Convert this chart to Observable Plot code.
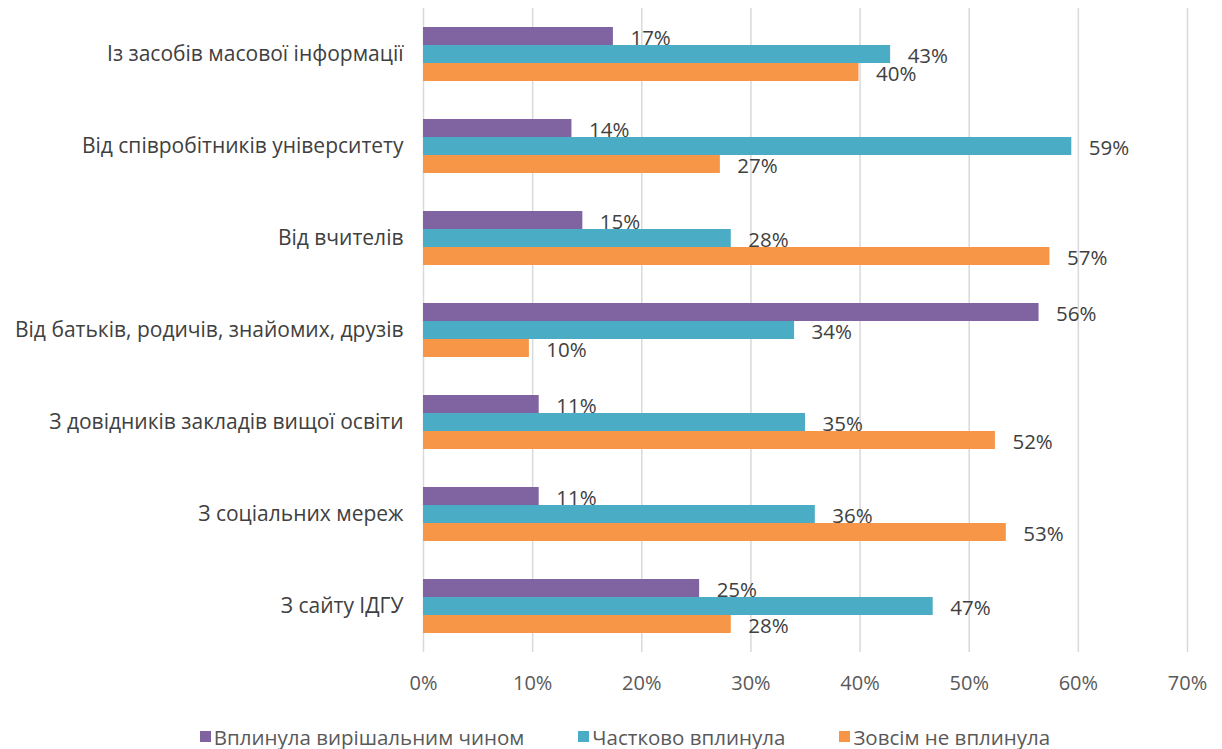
<!DOCTYPE html>
<html>
<head>
<meta charset="utf-8">
<script src="https://cdn.jsdelivr.net/npm/d3@7"></script>
<script src="https://cdn.jsdelivr.net/npm/@observablehq/plot@0.6"></script>
<style>
  body { margin: 0; background: #fff; font-family: "Open Sans", sans-serif; }
  #legend { display: flex; justify-content: center; gap: 54px; height: 37px; align-items: center; font-size: 20.5px; color: #595959; padding-left: 28px; padding-top: 12px; box-sizing: border-box; height: 37px; }
  #legend .item { display: flex; align-items: center; gap: 3px; }
  #legend .sw { width: 11px; height: 11px; display: inline-block; }
</style>
</head>
<body>
<div id="chart"></div>
<div id="legend"></div>
<script>
const categories = [
  "Із засобів масової інформації",
  "Від співробітників університету",
  "Від вчителів",
  "Від батьків, родичів, знайомих, друзів",
  "З довідників закладів вищої освіти",
  "З соціальних мереж",
  "З сайту ІДГУ"
];
const seriesNames = ["Вплинула вирішальним чином", "Частково вплинула", "Зовсім не вплинула"];
const seriesColors = ["#8064A2", "#4BACC6", "#F79646"];
const decisive = [17.4, 13.6, 14.6, 56.4, 10.6, 10.6, 25.3];
const partial  = [42.8, 59.4, 28.2, 34.0, 35.0, 35.9, 46.7];
const none     = [39.9, 27.2, 57.4, 9.7, 52.4, 53.4, 28.2];
const xTicks = [0, 10, 20, 30, 40, 50, 60, 70];

const seriesValues = [decisive, partial, none];
const data = [];
categories.forEach((c, i) => {
  seriesNames.forEach((s, j) => data.push({category: c, series: s, value: seriesValues[j][i]}));
});

const chart = Plot.plot({
  width: 1222,
  height: 712,
  marginLeft: 423,
  marginRight: 35,
  marginTop: 8,
  marginBottom: 60,
  style: {fontFamily: "'Open Sans', sans-serif", fontSize: "20px", color: "#595959", background: "#fff"},
  x: {domain: [0, 70], ticks: xTicks, tickFormat: d => d + "%", label: null, tickSize: 0, tickPadding: 23},
  y: {domain: seriesNames, paddingInner: 0, paddingOuter: 0.96, axis: null},
  fy: {domain: categories, padding: 0, label: null, tickSize: 0, tickPadding: 20},
  color: {domain: seriesNames, range: seriesColors},
  marks: [
    Plot.ruleX(xTicks, {stroke: "#d9d9d9", strokeWidth: 1.5}),
    Plot.barX(data, {fy: "category", y: "series", x: "value", fill: "series"}),
    Plot.text(data, {fy: "category", y: "series", x: "value", text: d => Math.round(d.value) + "%",
      textAnchor: "start", dx: 17, dy: 2, fill: "#404040", fontSize: 20.5}),
    Plot.axisFy({anchor: "left", tickSize: 0, tickPadding: 20, label: null, fill: "#404040", fontSize: 21})
  ]
});
document.getElementById("chart").appendChild(chart);

const legend = document.getElementById("legend");
seriesNames.forEach((s, i) => {
  const item = document.createElement("div");
  item.className = "item";
  const sw = document.createElement("span");
  sw.className = "sw";
  sw.style.background = seriesColors[i];
  const t = document.createElement("span");
  t.textContent = s;
  item.appendChild(sw);
  item.appendChild(t);
  legend.appendChild(item);
});
</script>
</body>
</html>
